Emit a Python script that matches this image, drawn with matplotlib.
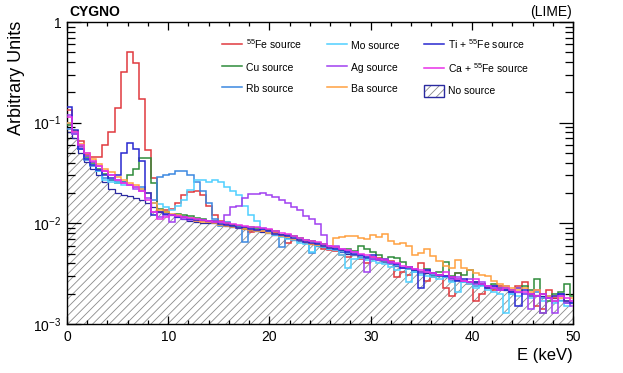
import numpy as np
import matplotlib
matplotlib.use("Agg")
import matplotlib.pyplot as plt
from matplotlib.patches import Patch
from matplotlib.lines import Line2D
from matplotlib.legend_handler import HandlerTuple
from matplotlib.ticker import LogLocator, FixedLocator, MultipleLocator, FuncFormatter

plt.rcParams['font.family'] = ['Liberation Sans', 'DejaVu Sans']
plt.rcParams['mathtext.fontset'] = 'custom'
plt.rcParams['mathtext.rm'] = 'Liberation Sans'
plt.rcParams['mathtext.it'] = 'Liberation Sans:italic'
plt.rcParams['hatch.linewidth'] = 0.6

# 84 bins of 0.6 keV (edges from -0.1 keV), values in units of 1e-3
edges = -0.1 + 0.6 * np.arange(85)

no_source = [80, 70, 50, 41, 35, 30, 26, 22, 20, 19, 18.5, 18,
             17, 16, 14.5, 13, 12.5, 12, 11.5, 11, 10.6, 10.3, 10.1, 10.0,
             10.0, 9.7, 9.5, 9.2, 9.0, 8.7, 8.5, 8.4, 8.2, 8.0, 7.7, 7.4,
             7.1, 6.8, 6.6, 6.4, 6.2, 6.0, 5.8, 5.6, 5.4, 5.2, 5.0, 4.8,
             4.6, 4.5, 4.4, 4.3, 4.1, 4.0, 3.8, 3.7, 3.6, 3.4, 3.3, 3.2,
             3.1, 3.0, 2.9, 2.85, 2.75, 2.7, 2.6, 2.55, 2.45, 2.4, 2.3, 2.25,
             2.2, 2.15, 2.1, 2.05, 2.0, 1.95, 1.9, 1.85, 1.8, 1.75, 1.7, 1.65]

fe55 = [134, 81, 65, 48, 46, 46, 60, 81, 140, 320, 507, 390,
        170, 53, 28, 13, 13.5, 14, 16, 19, 20.5, 21, 19, 15,
        12, 10.5, 9.8, 9.6, 9.5, 9.0, 8.2, 8.5, 8.4, 8.6, 8.0, 7.6,
        6.4, 6.8, 6.7, 6.4, 6.2, 6.1, 5.6, 5.4, 5.3, 4.9, 4.6, 4.8,
        4.4, 4.0, 4.6, 4.5, 4.1, 4.2, 2.9, 3.3, 3.1, 3.4, 4.0, 2.7,
        2.9, 3.1, 2.3, 1.9, 3.2, 2.7, 2.5, 1.7, 2.0, 2.3, 2.2, 2.4,
        2.2, 2.1, 2.4, 2.6, 1.9, 1.5, 1.4, 2.2, 1.8, 2.0, 1.7, 1.6]

cu = [95, 82, 58, 46, 40, 35, 31, 27, 25, 26, 30, 35,
      45, 45, 25, 14, 13, 12, 12.5, 12, 11.8, 11.3, 11, 10.4,
      10.5, 10.3, 10.0, 9.6, 9.5, 8.8, 9.1, 9.0, 8.8, 8.6, 8.3, 7.7,
      7.6, 7.5, 7.1, 6.9, 6.6, 6.4, 6.3, 5.6, 5.8, 5.4, 5.6, 5.3,
      5.9, 5.6, 5.2, 4.9, 4.4, 4.6, 4.5, 4.1, 3.7, 3.4, 3.3, 3.5,
      3.0, 3.3, 4.1, 3.0, 3.2, 3.1, 3.4, 2.6, 2.5, 2.4, 2.5, 2.3,
      2.3, 2.2, 2.3, 2.4, 2.2, 2.8, 1.3, 1.7, 2.0, 2.1, 2.5, 1.9]

rb = [86, 78, 55, 43, 37, 33, 28, 27, 26, 26, 24, 23,
      23, 20, 17, 29, 30, 31, 33, 33, 30, 26, 21, 16,
      11, 9.5, 10.3, 9.2, 9.3, 6.5, 8.8, 8.4, 8.5, 8.2, 7.9, 5.8,
      7.4, 7.0, 6.6, 6.8, 5.1, 6.2, 5.9, 5.6, 5.5, 5.2, 5.1, 4.9,
      4.7, 4.5, 4.4, 4.3, 4.1, 3.9, 3.8, 3.6, 3.5, 3.3, 3.2, 3.3,
      3.1, 3.0, 2.9, 2.7, 2.8, 2.6, 2.6, 2.4, 2.5, 2.4, 2.3, 2.2,
      2.2, 2.0, 2.1, 2.0, 1.9, 2.1, 1.8, 1.9, 1.7, 2.0, 1.6, 1.7]

mo = [100, 80, 55, 44, 38, 33, 27, 26, 25, 24, 24, 23,
      22, 20, 16, 15.5, 14.5, 13.5, 15, 17, 21.5, 27, 27, 26,
      27, 26, 23, 21, 19, 15, 12, 10.5, 9.0, 8.0, 7.6, 7.3,
      7.0, 6.9, 6.4, 6.2, 5.2, 6.0, 5.8, 5.5, 5.4, 4.9, 3.6, 4.4,
      4.5, 4.3, 4.2, 4.0, 3.9, 3.7, 3.4, 3.6, 2.6, 3.3, 3.1, 3.0,
      2.9, 2.8, 2.9, 2.6, 2.1, 2.6, 2.5, 2.3, 2.4, 2.2, 2.1, 2.0,
      1.3, 2.0, 1.9, 2.0, 1.8, 1.9, 1.7, 1.8, 1.6, 1.7, 1.5, 1.6]

ag = [120, 78, 57, 47, 41, 37, 33, 30, 27, 25, 24, 22,
      21, 18, 13, 11.5, 12, 10.2, 11.5, 11, 10.8, 10.6, 10.5, 10.3,
      10.5, 10.4, 12, 14.5, 14.8, 18, 19.5, 19.5, 20, 19, 18.3, 17,
      15.8, 14.6, 13.5, 11.8, 11, 9.8, 7.7, 6.0, 5.9, 5.6, 5.3, 5.2,
      4.8, 3.3, 4.4, 4.3, 4.4, 4.0, 3.9, 3.6, 3.7, 3.5, 3.3, 3.4,
      3.2, 3.1, 3.0, 2.8, 2.9, 2.7, 2.8, 2.5, 2.6, 2.4, 2.4, 2.3,
      2.4, 2.1, 2.3, 2.0, 1.4, 2.2, 1.3, 1.8, 1.3, 1.9, 1.6, 1.5]

ba = [100, 82, 62, 50, 44, 39, 35, 32, 29, 27, 25, 24,
      22, 20, 16, 13.5, 13, 12.3, 12, 11.6, 11.2, 10.6, 10.4, 10.2,
      10, 9.7, 9.5, 9.3, 9.0, 8.8, 8.6, 8.4, 8.3, 8.0, 7.8, 7.5,
      7.3, 7.0, 6.8, 6.6, 6.3, 6.1, 5.9, 5.7, 7.2, 7.3, 7.5, 7.5,
      7.2, 7.0, 7.7, 7.3, 7.8, 6.6, 6.3, 6.4, 6.0, 4.8, 5.1, 5.5,
      4.7, 4.2, 3.8, 3.6, 4.3, 3.6, 3.4, 3.2, 3.1, 3.0, 2.7, 2.5,
      2.4, 2.3, 2.2, 2.3, 2.1, 2.2, 2.0, 1.9, 1.9, 1.8, 1.7, 1.8]

ti_fe = [144, 85, 55, 44, 38, 34, 30, 28, 30, 50, 63, 55,
         42, 20, 12, 13, 12.5, 12, 11.5, 11.5, 11.0, 10.8, 10.9, 10.5,
         10.2, 9.8, 9.6, 9.4, 9.0, 9.1, 8.8, 8.6, 8.7, 8.3, 7.9, 7.6,
         7.4, 7.1, 6.8, 6.5, 6.4, 6.2, 5.9, 5.7, 5.6, 5.4, 5.2, 5.0,
         4.8, 4.6, 4.9, 4.4, 4.3, 4.1, 3.9, 3.6, 3.7, 3.4, 2.3, 3.4,
         3.2, 3.1, 3.0, 2.9, 2.7, 2.8, 2.6, 2.6, 2.5, 2.3, 2.4, 2.2,
         2.2, 2.1, 1.5, 2.2, 2.0, 1.9, 2.0, 1.8, 1.9, 2.0, 1.7, 1.6]

ca_fe = [114, 80, 60, 50, 42, 37, 33, 30, 27, 25, 24, 23,
         21, 17, 13, 11, 11.5, 12, 11.8, 11.5, 11.2, 11, 10.8, 10.6,
         10.4, 10.2, 10, 9.8, 9.6, 9.4, 9.3, 9.1, 9.0, 8.7, 8.4, 8.1,
         7.8, 7.5, 7.2, 6.9, 6.7, 6.5, 6.2, 6.0, 5.8, 5.6, 5.4, 5.2,
         5.0, 4.8, 4.6, 4.4, 4.3, 4.1, 4.0, 3.8, 3.7, 3.5, 3.4, 3.3,
         3.2, 3.1, 3.3, 2.9, 2.8, 2.7, 2.6, 2.8, 2.5, 2.4, 2.3, 2.2,
         2.3, 2.2, 2.1, 2.1, 2.0, 1.9, 2.0, 1.8, 1.7, 1.9, 1.8, 1.7]

labels = [r'$^{55}$Fe source', 'Cu source', 'Rb source',
          'Mo source', 'Ag source', 'Ba source',
          r'Ti + $^{55}$Fe source', r'Ca + $^{55}$Fe source']
series = [fe55, cu, rb, mo, ag, ba, ti_fe, ca_fe]
colors = ['#e0393e', '#2e8b3a', '#3a87e0', '#4fd0ff',
          '#a040f0', '#ffa040', '#2828d0', '#e830e8']
nosrc_color = '#2a2aa0'

fig = plt.figure(figsize=(6.23, 3.73), dpi=100)
ax = fig.add_axes([0.1075, 0.1314, 0.8125, 0.8096])

ns = np.array(no_source) * 1e-3
ax.stairs(ns, edges, baseline=1e-5, fill=True, facecolor='none',
          edgecolor='#8a8a8a', hatch='////', linewidth=0, zorder=1)
ax.stairs(ns, edges, baseline=None, color=nosrc_color, lw=0.9, zorder=2)

draw_order = [5, 4, 3, 2, 7, 1, 6, 0]
for i in draw_order:
    ax.stairs(np.array(series[i]) * 1e-3, edges, baseline=None,
              color=colors[i], lw=1.1, zorder=3 + i * 0.01)

ax.set_xlim(0, 50)
ax.set_yscale('log')
ax.set_ylim(1e-3, 1)

ax.xaxis.set_major_locator(MultipleLocator(10))
ax.xaxis.set_minor_locator(MultipleLocator(2))
ax.yaxis.set_major_locator(FixedLocator([1e-3, 1e-2, 1e-1, 1]))
ax.yaxis.set_minor_locator(LogLocator(base=10, subs=np.arange(2, 10)))
ax.yaxis.set_minor_formatter(FuncFormatter(lambda v, p: ''))


def yfmt(v, pos):
    e = int(round(np.log10(v)))
    return '1' if e == 0 else r'$10^{%d}$' % e


ax.yaxis.set_major_formatter(FuncFormatter(yfmt))
ax.tick_params(which='both', direction='in', top=True, right=True,
               labelsize=10, width=0.9)
ax.tick_params(axis='x', which='major', length=6, pad=4)
ax.tick_params(axis='x', which='minor', length=3)
ax.tick_params(axis='y', which='major', length=10, pad=4)
ax.tick_params(axis='y', which='minor', length=5.5)
for s in ax.spines.values():
    s.set_linewidth(1.0)

fig.text(0.027, 0.945, 'Arbitrary Units', rotation=90, ha='center', va='top', fontsize=13)
fig.text(0.92, 0.048, 'E (keV)', ha='right', va='center', fontsize=12)
fig.text(0.112, 0.968, 'CYGNO', weight='bold', ha='left', va='center', fontsize=10)
fig.text(0.918, 0.968, '(LIME)', ha='right', va='center', fontsize=10)

handles = [Line2D([], [], color=c, lw=1.1) for c in colors]
hatch_handle = (Patch(facecolor='white', edgecolor='#8a8a8a', hatch='////', lw=0),
                Patch(facecolor='none', edgecolor=nosrc_color, lw=1.0))
handles.append(hatch_handle)
fig.legend(handles, labels + ['No source'], ncol=3, loc='upper left',
           bbox_to_anchor=(0.356, 0.9), frameon=False, fontsize=7.5,
           handlelength=1.9, handleheight=1.4, handletextpad=0.4,
           columnspacing=2.4, labelspacing=0.9, borderpad=0, borderaxespad=0,
           handler_map={tuple: HandlerTuple(ndivide=1, pad=0)})

fig.savefig('out.png', dpi=100)
